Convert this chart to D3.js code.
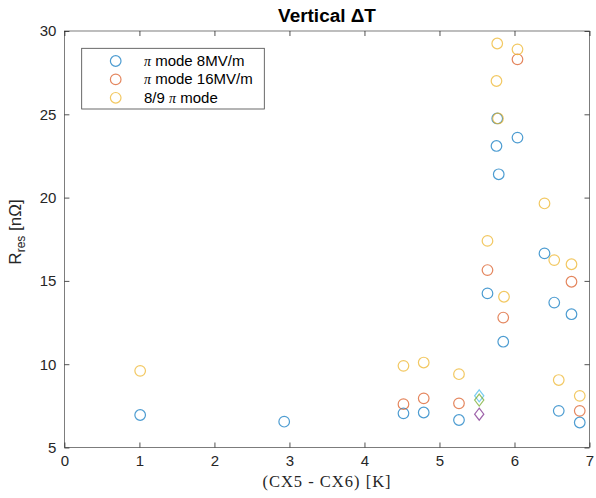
<!DOCTYPE html>
<html><head><meta charset="utf-8">
<script src="https://cdn.jsdelivr.net/npm/d3@7"></script>
<style>
body{margin:0;background:#fff;}
svg{display:block;}
</style></head>
<body>
<svg id="chart" width="596" height="498"></svg>
<script>
// Data
const seriesNames = ["\u03C0 mode 8MV/m", "\u03C0 mode 16MV/m", "8/9 \u03C0 mode"];
const blueX = [1.01, 2.93, 4.52, 4.79, 5.26, 5.64, 5.77, 5.76, 5.79, 5.85, 6.04, 6.40, 6.53, 6.59, 6.76, 6.87];
const blueY = [6.95, 6.55, 7.05, 7.10, 6.65, 14.25, 24.75, 23.10, 21.40, 11.35, 23.60, 16.65, 13.70, 7.20, 13.00, 6.50];
const redX = [4.52, 4.79, 5.26, 5.64, 5.85, 6.04, 6.76, 6.87];
const redY = [7.60, 7.95, 7.65, 15.65, 12.80, 28.30, 14.95, 7.20];
const yellowX = [1.01, 4.52, 4.79, 5.26, 5.64, 5.76, 5.77, 5.78, 5.86, 6.04, 6.40, 6.53, 6.59, 6.76, 6.87];
const yellowY = [9.60, 9.90, 10.10, 9.40, 17.40, 27.00, 29.25, 24.75, 14.05, 28.90, 19.65, 16.25, 9.05, 16.00, 8.10];
const diamondX = [5.53, 5.53, 5.53];
const diamondY = [8.10, 7.85, 7.00];
const diamondColors = ["#4DBEEE", "#77AC30", "#7E2F8E"];
const xTicks = [0, 1, 2, 3, 4, 5, 6, 7];
const yTicks = [5, 10, 15, 20, 25, 30];
const colors = ["#0072BD", "#D95319", "#EDB120"];

const svg = d3.select("#chart");
const L = 64.4, R = 589.5, T = 31, B = 447.5;
const x = d3.scaleLinear().domain([0, 7]).range([L, R]);
const y = d3.scaleLinear().domain([5, 30]).range([B, T]);
const axisColor = "#262626";
const tickFont = "Liberation Sans, Arial, sans-serif";

function fitWidth(sel, target) {
  const w = sel.node().getComputedTextLength();
  const fs = parseFloat(sel.attr("font-size"));
  sel.attr("font-size", (fs * target / w).toFixed(2) + "px");
}

// ticks
const tl = 5;
const xAxisB = d3.axisBottom(x).tickValues(xTicks).tickSize(-tl).tickSizeOuter(0).tickPadding(8).tickFormat(d3.format("d"));
const xAxisT = d3.axisTop(x).tickValues(xTicks).tickSize(-tl).tickSizeOuter(0).tickFormat("");
const yAxisL = d3.axisLeft(y).tickValues(yTicks).tickSize(-tl).tickSizeOuter(0).tickPadding(8).tickFormat(d3.format("d"));
const yAxisR = d3.axisRight(y).tickValues(yTicks).tickSize(-tl).tickSizeOuter(0).tickFormat("");

function style(g){
  g.select(".domain").remove();
  g.selectAll(".tick line").attr("stroke", axisColor).attr("stroke-width", 0.8);
  g.selectAll(".tick text").attr("fill", axisColor).attr("font-family", tickFont).attr("font-size", "15px");
}
svg.append("g").attr("transform", `translate(0,${B})`).call(xAxisB).call(style);
svg.append("g").attr("transform", `translate(0,${T})`).call(xAxisT).call(style);
svg.append("g").attr("transform", `translate(${L},0)`).call(yAxisL).call(style);
svg.append("g").attr("transform", `translate(${R},0)`).call(yAxisR).call(style);

// box
svg.append("rect").attr("x", L).attr("y", T).attr("width", R - L).attr("height", B - T)
  .attr("fill", "none").attr("stroke", axisColor).attr("stroke-width", 0.8).attr("opacity", 0.75);

// markers
const seriesX = [blueX, redX, yellowX];
const seriesY = [blueY, redY, yellowY];
const plot = svg.append("g");
seriesX.forEach((xs, i) => {
  plot.selectAll(null).data(xs.map((v, j) => [v, seriesY[i][j]])).enter()
    .append("circle")
    .attr("cx", d => x(d[0])).attr("cy", d => y(d[1])).attr("r", 5.3)
    .attr("fill", "none").attr("stroke", colors[i]).attr("stroke-width", 1.2).attr("stroke-opacity", 0.7);
});
plot.selectAll(null).data(diamondX.map((v, j) => [v, diamondY[j], diamondColors[j]])).enter()
  .append("path")
  .attr("d", "M0,-6L4.6,0L0,6L-4.6,0Z")
  .attr("transform", d => `translate(${x(d[0])},${y(d[1])})`)
  .attr("fill", "none").attr("stroke", d => d[2]).attr("stroke-width", 1.2).attr("stroke-opacity", 0.75);

// legend
const lg = svg.append("g");
lg.append("rect").attr("x", 81.7).attr("y", 48.3).attr("width", 182.6).attr("height", 60.7)
  .attr("fill", "#fff").attr("stroke", axisColor).attr("stroke-width", 0.8).attr("opacity", 0.85);
seriesNames.forEach((name, i) => {
  const yy = 61 + i * 18.4;
  lg.append("circle").attr("cx", 115.7).attr("cy", yy).attr("r", 5.3)
    .attr("fill", "none").attr("stroke", colors[i]).attr("stroke-width", 1.2).attr("stroke-opacity", 0.7);
  const t = lg.append("text").attr("x", 144).attr("y", yy + 5)
    .attr("font-family", tickFont).attr("font-size", "15px").attr("fill", "#000");
  const parts = name.split("\u03C0");
  if (parts[0]) t.append("tspan").text(parts[0]);
  t.append("tspan").attr("font-family", "Liberation Serif, serif").attr("font-style", "italic").attr("font-size", "14px").text("\u03C0");
  t.append("tspan").text(parts[1]);
});

// title
const title = svg.append("text").attr("x", 327).attr("y", 22).attr("text-anchor", "middle")
  .attr("font-family", tickFont).attr("font-weight", "bold").attr("font-size", "18px").attr("fill", "#000")
  .text("Vertical \u0394T");
fitWidth(title, 98);

// x label
svg.append("text").attr("x", 327).attr("y", 487).attr("text-anchor", "middle")
  .attr("font-family", "Liberation Serif, serif").attr("font-size", "16.5px").attr("fill", axisColor)
  .attr("letter-spacing", "1px")
  .text("(CX5 - CX6) [K]");

// y label
const yl = svg.append("text").attr("transform", `translate(21,232) rotate(-90)`)
  .attr("text-anchor", "middle").attr("font-family", tickFont).attr("font-size", "17px").attr("fill", axisColor);
yl.append("tspan").text("R");
yl.append("tspan").attr("font-size", "12px").attr("dy", 4).text("res");
yl.append("tspan").attr("dy", -4).text(" [n\u03A9]");
</script>
</body></html>
